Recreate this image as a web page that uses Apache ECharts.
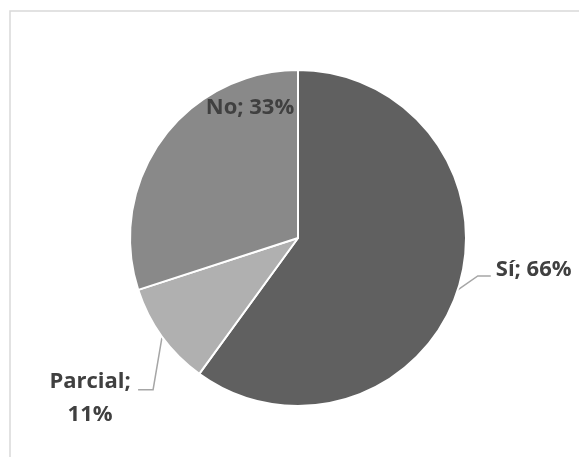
<!DOCTYPE html>
<html>
<head>
<meta charset="utf-8">
<script src="https://cdn.jsdelivr.net/npm/echarts@6/dist/echarts.min.js"></script>
<style>
html,body{margin:0;padding:0;background:#fff;}
#c{width:579px;height:457px;}
</style>
</head>
<body>
<div id="c"></div>
<script>
const categories = ['Sí', 'Parcial', 'No'];
const values = [66, 11, 33];
const colors = ['#606060', '#b0b0b0', '#898989'];

const CX = 298, CY = 238, R = 168;

const chart = echarts.init(document.getElementById('c'), null, {renderer: 'canvas'});

const data = categories.map((name, i) => {
  const item = { name: name, value: values[i], itemStyle: { color: colors[i] } };
  if (i === 2) {
    item.label = { position: 'inside' };
    item.labelLine = { show: false };
  }
  return item;
});

chart.setOption({
  animation: false,
  backgroundColor: '#ffffff',
  graphic: [{
    type: 'rect',
    shape: { x: 10, y: 11, width: 600, height: 480 },
    style: { fill: 'none', stroke: '#d9d9d9', lineWidth: 1.5 },
    silent: true
  }],
  series: [{
    type: 'pie',
    center: [CX, CY],
    radius: [0, R],
    startAngle: 90,
    clockwise: true,
    avoidLabelOverlap: false,
    data: data,
    itemStyle: { borderColor: '#ffffff', borderWidth: 2 },
    label: {
      show: true,
      position: 'outside',
      color: '#404040',
      fontFamily: 'Open Sans',
      fontWeight: 'bold',
      fontSize: 22,
      lineHeight: 33,
      formatter: function (p) {
        return p.name + ';' + (p.dataIndex === 1 ? '\n' : ' ') + p.value + '%';
      }
    },
    labelLine: {
      show: true,
      length: 20,
      length2: 12,
      lineStyle: { color: '#a6a6a6', width: 1.5 }
    },
    labelLayout: function (params) {
      const pts = params.labelLinePoints;
      if (params.dataIndex === 0 && pts) {
        const p = pts[0];
        return {
          x: p[0] + 38, y: p[1] - 20, align: 'left', verticalAlign: 'middle',
          labelLinePoints: [p, [p[0] + 20, p[1] - 14], [p[0] + 33, p[1] - 14]]
        };
      }
      if (params.dataIndex === 1 && pts) {
        const p = pts[0];
        return {
          x: p[0] - 72, y: p[1] + 61, align: 'center', verticalAlign: 'middle',
          labelLinePoints: [p, [p[0] - 9, p[1] + 53], [p[0] - 24, p[1] + 53]]
        };
      }
      if (params.dataIndex === 2) {
        return { x: CX - 48, y: CY - 130, align: 'center', verticalAlign: 'middle' };
      }
      return {};
    }
  }]
});
</script>
</body>
</html>
